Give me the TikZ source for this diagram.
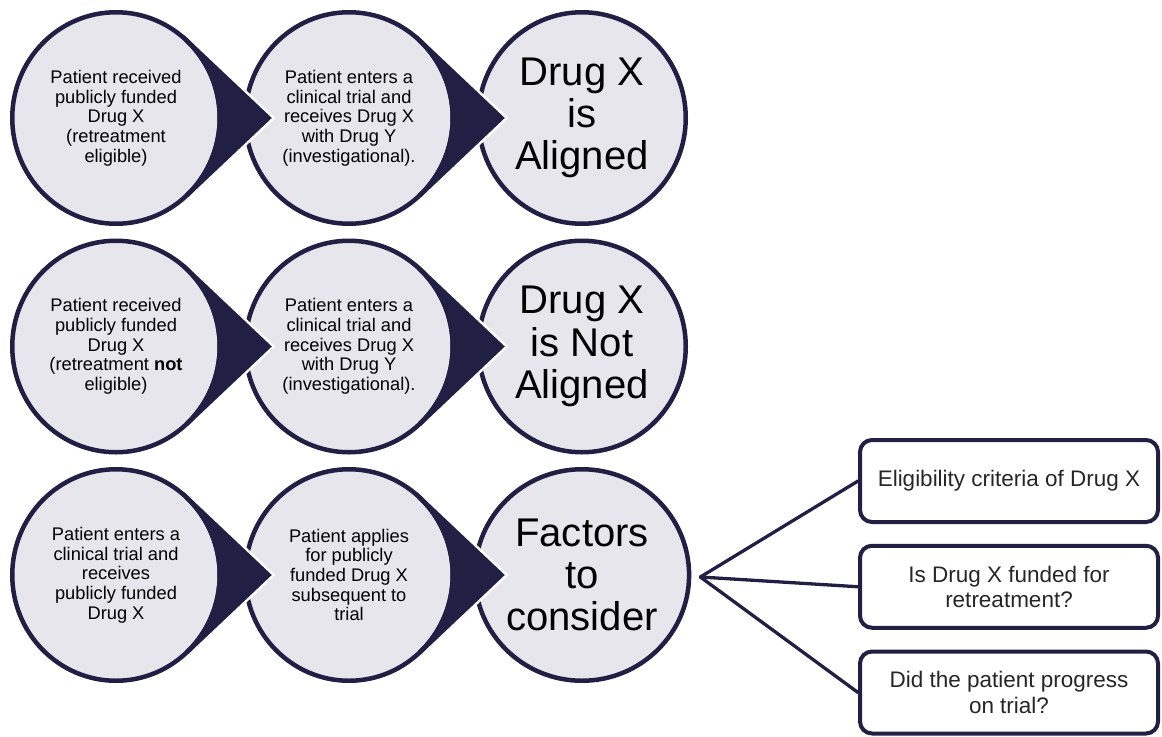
\documentclass[tikz,border=0pt]{standalone}
\usepackage{fontspec}
\setmainfont{Liberation Sans}
\usetikzlibrary{shapes.geometric,calc}
\definecolor{navy}{RGB}{33,32,68}
\definecolor{pale}{RGB}{231,230,237}
\tikzset{
  bubble/.style={ellipse, draw=navy, fill=pale, line width=0.09cm,
    minimum width=4.15cm, minimum height=4.23cm, inner sep=0pt,
    align=center, font=\fontsize{10.4}{11.2}\selectfont},
  big/.style={font=\fontsize{22.8}{24}\selectfont},
  tipfill/.style={fill=navy, draw=navy, line width=0.09cm},
  tipgap/.style={draw=white, line width=0.19cm},
  factorbox/.style={rectangle, rounded corners=0.24cm, draw=navy, line width=0.08cm,
    minimum width=5.96cm, minimum height=1.64cm, align=center, text=black!85,
    font=\fontsize{12.8}{14.3}\selectfont},
  spoke/.style={draw=navy, line width=0.066cm, line cap=round}
}
% pointed end of a bubble, laid over the next bubble with a white edge
\newcommand{\droptip}[1]{%
  \begin{scope}[shift={(#1.center)}]
    \begin{scope}
      \clip (2.3,-3) rectangle (4,3);
      \draw[tipgap] (47.1:2.075 and 2.115) -- (3.05,0) -- (-47.1:2.075 and 2.115);
    \end{scope}
    \filldraw[tipfill] (47.1:2.075 and 2.115) -- (3.05,0)
      -- (-47.1:2.075 and 2.115) arc[start angle=-47.1, end angle=47.1, x radius=2.075, y radius=2.115] -- cycle;
  \end{scope}}
\begin{document}
\begin{tikzpicture}[node distance=4.66cm]
    \useasboundingbox (0,0) rectangle (23.24,-14.72);

    % first row
    \node (received1) [bubble] at (2.32,-2.36) {Patient received\\publicly funded\\Drug X\\(retreatment\\eligible)};
    \node (enters1) [bubble, right of=received1] {Patient enters a\\clinical trial and\\receives Drug X\\with Drug Y\\(investigational).};
    \droptip{received1}
    \node (aligned) [bubble, big, right of=enters1] {Drug X\\is\\Aligned};
    \droptip{enters1}

    % second row
    \node (received2) [bubble, node distance=4.57cm, below of=received1] {Patient received\\publicly funded\\Drug X\\(retreatment \textbf{not}\\eligible)};
    \node (enters2) [bubble, right of=received2] {Patient enters a\\clinical trial and\\receives Drug X\\with Drug Y\\(investigational).};
    \droptip{received2}
    \node (notaligned) [bubble, big, right of=enters2] {Drug X\\is Not\\Aligned};
    \droptip{enters2}

    % third row
    \node (enters3) [bubble, node distance=4.57cm, below of=received2] {Patient enters a\\clinical trial and\\receives\\publicly funded\\Drug X};
    \node (applies3) [bubble, right of=enters3] {Patient applies\\for publicly\\funded Drug X\\subsequent to\\trial};
    \droptip{enters3}
    \node (factors) [bubble, big, right of=applies3] {Factors\\to\\consider};
    \droptip{applies3}

    % factors
    \node (elig) [factorbox] at (20.18,-9.62) {Eligibility criteria of Drug X};
    \node (funded) [factorbox, node distance=2.115cm, below of=elig] {Is Drug X funded for\\retreatment?};
    \node (progress) [factorbox, node distance=2.115cm, below of=funded] {Did the patient progress\\on trial?};

    \coordinate (fork) at ($(factors.east)+(0.18,-0.04)$);
    \draw[spoke] (fork) -- (elig.west);
    \draw[spoke] (fork) -- (funded.west);
    \draw[spoke] (fork) -- (progress.west);
\end{tikzpicture}
\end{document}
